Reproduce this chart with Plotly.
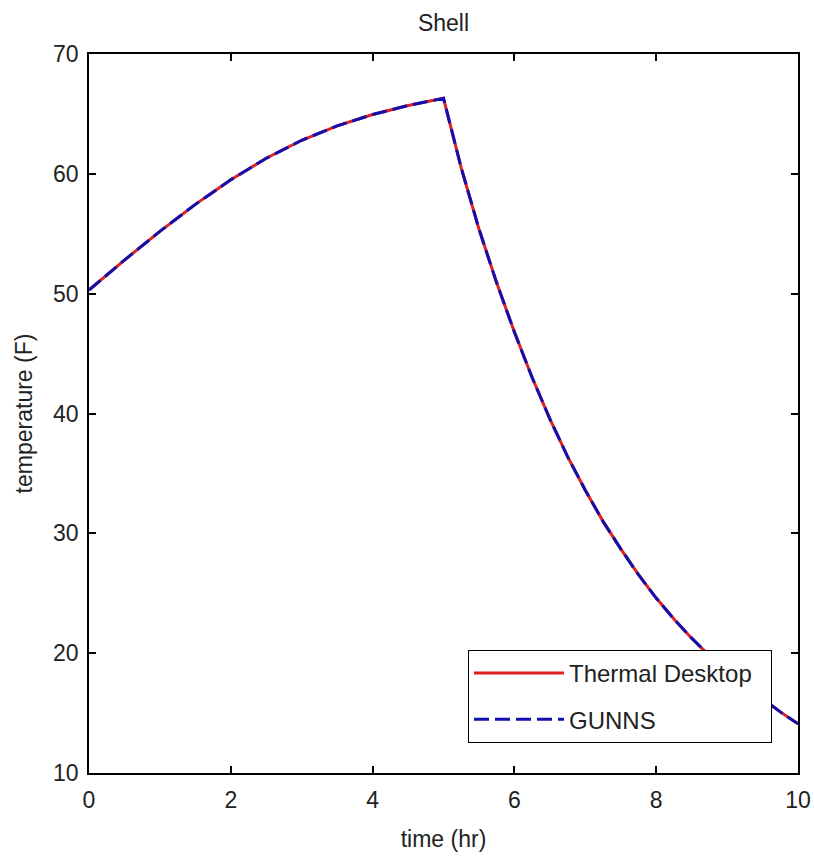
import plotly.graph_objects as go

# time (hr)
time_hr = [0.0, 0.5, 1.0, 1.5, 2.0, 2.5, 3.0, 3.5, 4.0, 4.5, 5.0,
           5.25, 5.5, 5.75, 6.0, 6.25, 6.5, 6.75, 7.0, 7.25, 7.5, 7.75,
           8.0, 8.25, 8.5, 8.75, 9.0, 9.25, 9.5, 9.75, 10.0]

# Thermal Desktop temperature (F)
thermal_desktop = [50.3, 52.8, 55.2, 57.45, 59.5, 61.3, 62.8, 64.0, 64.95, 65.7, 66.3,
                   60.5, 55.4, 50.9, 46.8, 43.0, 39.55, 36.4, 33.6, 31.0, 28.7, 26.55,
                   24.6, 22.85, 21.25, 19.8, 18.5, 17.3, 16.2, 15.1, 14.1]

# GUNNS temperature (F)
gunns = [50.3, 52.8, 55.2, 57.45, 59.5, 61.3, 62.8, 64.0, 64.95, 65.7, 66.3,
         60.5, 55.4, 50.9, 46.8, 43.0, 39.55, 36.4, 33.6, 31.0, 28.7, 26.55,
         24.6, 22.85, 21.25, 19.8, 18.5, 17.3, 16.2, 15.1, 14.1]

series_names = ["Thermal Desktop", "GUNNS"]

x_ticks = [0, 2, 4, 6, 8, 10]
y_ticks = [10, 20, 30, 40, 50, 60, 70]

FONT = "Liberation Sans, Arial, sans-serif"
TXT = "#222"
PAD = "\u00a0\u00a0"  # right padding inside the legend box

fig = go.Figure()
fig.add_trace(go.Scatter(
    x=time_hr, y=thermal_desktop, mode="lines", name=series_names[0] + PAD,
    legendgroup="a",
    line=dict(color="#e02020", width=3)))
fig.add_trace(go.Scatter(
    x=time_hr, y=gunns, mode="lines", name=series_names[1],
    legendgroup="b",
    line=dict(color="#1010b0", width=3, dash="15px,6px")))

axis_common = dict(
    showline=True, linecolor="black", linewidth=1.6, mirror="ticks",
    ticks="inside", ticklen=7, tickwidth=1.5, tickcolor="black",
    showgrid=False, zeroline=False, automargin=False,
    tickfont=dict(family=FONT, size=23, color=TXT),
)

fig.update_layout(
    width=814, height=857,
    margin=dict(l=89, r=16, t=54, b=84),
    paper_bgcolor="white", plot_bgcolor="white",
    title=dict(text="Shell", x=(89 + 798) / 2 / 814, xanchor="center",
               y=1 - 23 / 857, yanchor="middle", yref="container",
               font=dict(family=FONT, size=23, color=TXT)),
    xaxis=dict(range=[0, 10], tickvals=x_ticks, ticklabelstandoff=6,
               title=dict(text="time (hr)", font=dict(family=FONT, size=23, color=TXT), standoff=18),
               **axis_common),
    yaxis=dict(range=[10, 70], tickvals=y_ticks, ticklabelstandoff=4,
               title=dict(text="temperature (F)", font=dict(family=FONT, size=23, color=TXT), standoff=14),
               **axis_common),
    legend=dict(x=(772 - 89) / 709, xanchor="right", y=(773 - 743) / 719, yanchor="bottom",
                bgcolor="white", bordercolor="black", borderwidth=1,
                traceorder="grouped", tracegroupgap=12, itemwidth=90,
                font=dict(family=FONT, size=24, color=TXT)),
    showlegend=True,
)

fig.write_html("out.html")
